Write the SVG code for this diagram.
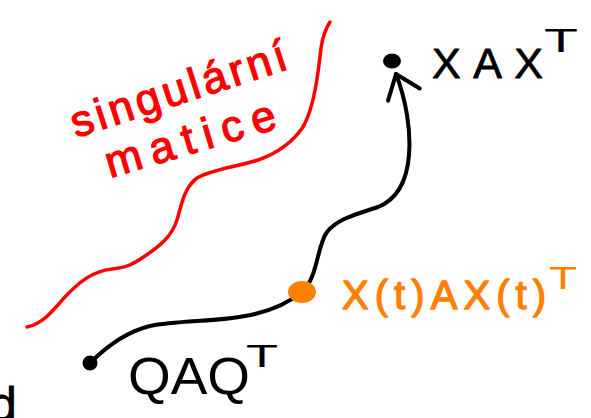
<svg xmlns="http://www.w3.org/2000/svg" width="591" height="418" viewBox="0 0 591 418">
  <style>
    .lbl { font-family: "Liberation Sans", "DejaVu Sans", sans-serif; stroke-linejoin: round; }
    .blk { fill: #000; }
    .red { fill: #ff0000; stroke: #ff0000; stroke-width: 1.3; }
    .org { fill: #ff8000; }
    .otx { stroke: #ff8000; stroke-width: 1.3; }
    .btx { stroke: #000; stroke-width: 0.8; }
    .conn { fill: none; stroke: #000; stroke-width: 4; stroke-linecap: round; stroke-linejoin: round; }
  </style>
  <defs>
    <marker id="arrow" markerUnits="userSpaceOnUse" markerWidth="50" markerHeight="50" viewBox="-30 -25 50 50" refX="0" refY="0" orient="auto" overflow="visible">
      <path d="M-22,-17 L0,0 L-22,17" fill="none" stroke="#000" stroke-width="4" stroke-linecap="round" stroke-linejoin="round"/>
    </marker>
  </defs>
  <rect width="591" height="418" fill="#fff"/>

  <g id="singular-region">
    <path d="M27,327 C42,324 52,312 64,298 C78,283 92,271 112,269 C125,268 132,265 145,256 C160,246 172,236 177,220 C182,203 184,188 197,178 C210,170 235,167 258,160 C278,153 292,143 303,127 C314,108 318,75 321,48 C323,35 326,28 330,22" fill="none" stroke="#ff0000" stroke-width="3.5" stroke-linecap="round"/>
    <text class="lbl red" x="76" y="138" font-size="44" textLength="225" transform="rotate(-18 76 138)">singulární</text>
    <text class="lbl red" x="110" y="178" font-size="44" textLength="176" transform="rotate(-16.5 110 178)">matice</text>
  </g>

  <g id="connectors">
    <path class="conn" d="M90,363 C105,348 125,332 150,326 C180,320 225,322 255,314 C275,309 290,302 302,292 C318,278 317,245 327,232 C338,218 358,214 378,207 C398,199 407,180 409,155 C411,130 406,100 396,74" marker-end="url(#arrow)"/>
  </g>

  <g id="node-qaq">
    <circle class="blk" cx="90" cy="363" r="7.5"/>
    <text class="lbl blk" x="128" y="394" font-size="52" textLength="122" lengthAdjust="spacingAndGlyphs">QAQ</text>
    <text class="lbl blk" x="246" y="367" font-size="32" textLength="32" lengthAdjust="spacingAndGlyphs">T</text>
  </g>

  <g id="node-xt">
    <ellipse class="org" cx="302" cy="292" rx="14" ry="11"/>
    <text class="lbl org otx" x="342" y="309" font-size="40" textLength="204">X(t)AX(t)</text>
    <text class="lbl org" x="549" y="289" font-size="32" textLength="28" lengthAdjust="spacingAndGlyphs">T</text>
  </g>

  <g id="node-xax">
    <ellipse class="blk" cx="392" cy="61" rx="9" ry="7.5"/>
    <text class="lbl blk btx" x="432" y="78" font-size="43" textLength="111">XAX</text>
    <text class="lbl blk" x="544" y="52" font-size="34" textLength="34" lengthAdjust="spacingAndGlyphs">T</text>
  </g>

  <g id="fragment-d">
    <text class="lbl blk btx" x="-10" y="421" font-size="48">d</text>
  </g>
</svg>
